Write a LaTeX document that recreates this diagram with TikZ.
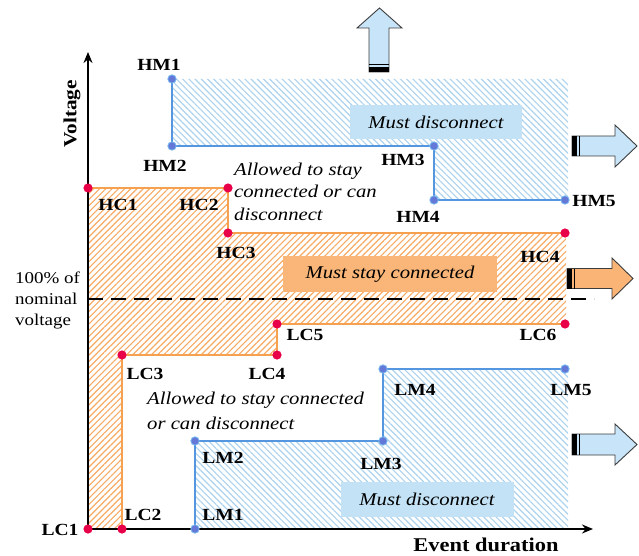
\documentclass[tikz,border=0pt]{standalone}
\usepackage{fontspec}
\setmainfont{Liberation Serif}[FakeStretch=1.15]
\usetikzlibrary{patterns.meta,arrows.meta}
\definecolor{hatchor}{RGB}{247,170,100}
\definecolor{lineor}{RGB}{247,160,80}
\definecolor{hatchbl}{RGB}{172,210,238}
\definecolor{linebl}{RGB}{85,150,225}
\definecolor{dotred}{RGB}{232,0,72}
\definecolor{dotbl}{RGB}{100,120,215}
\definecolor{ringbl}{RGB}{120,185,240}
\definecolor{boxbl}{RGB}{195,226,245}
\definecolor{boxor}{RGB}{250,182,120}
\definecolor{arrbl}{RGB}{200,228,248}
\definecolor{arror}{RGB}{250,180,118}
\definecolor{arrline}{RGB}{60,60,60}
\begin{document}
\begin{tikzpicture}[x=1pt,y=1pt,
  lbl/.style={font=\fontsize{17}{20}\selectfont\bfseries, inner sep=0pt},
  ital/.style={font=\fontsize{18}{22.5}\selectfont\itshape, inner sep=0pt, align=left},
  hatchO/.style={pattern={Lines[angle=45,distance=4.4pt,line width=1.15pt]}, pattern color=hatchor},
  hatchB/.style={pattern={Lines[angle=-45,distance=4.4pt,line width=1.15pt]}, pattern color=hatchbl},
  lineO/.style={draw=lineor, line width=1.5pt},
  lineB/.style={draw=linebl, line width=1.5pt},
  redpt/.style={fill=dotred},
  bluept/.style={fill=dotbl, draw=ringbl, line width=0.8pt},
  tagbox/.style={font=\fontsize{18}{22}\selectfont\itshape, inner sep=0pt},
  blockarrow/.style={draw=arrline, line width=0.9pt, line join=miter},
  axis/.style={line width=2.6pt, -{Stealth[length=11pt,width=9pt]}}
]
\useasboundingbox (0,0) rectangle (639,-556);

% ---- key points
\coordinate (HM1) at (172,-79);
\coordinate (HM2) at (172,-146);
\coordinate (HM3) at (434,-146);
\coordinate (HM4) at (434,-200);
\coordinate (HM5) at (565,-200);
\coordinate (HC1) at (88,-188);
\coordinate (HC2) at (228,-188);
\coordinate (HC3) at (228,-233);
\coordinate (HC4) at (565,-233);
\coordinate (LC1) at (88,-529);
\coordinate (LC2) at (122,-529);
\coordinate (LC3) at (122,-355);
\coordinate (LC4) at (277,-355);
\coordinate (LC5) at (277,-324);
\coordinate (LC6) at (565,-324);
\coordinate (LM1) at (195,-529);
\coordinate (LM2) at (195,-441);
\coordinate (LM3) at (383,-441);
\coordinate (LM4) at (383,-369);
\coordinate (LM5) at (565,-369);

% ---- hatched regions
\fill[hatchB] (HM1) -- (568,-79) -- (568,-200) -- (HM4) -- (HM3) -- (HM2) -- cycle;
\fill[hatchB] (LM1) -- (LM2) -- (LM3) -- (LM4) -- (568,-369) -- (568,-529) -- cycle;
\fill[hatchO] (HC1) -- (HC2) -- (HC3) -- (566,-233) -- (566,-324) -- (LC5) -- (LC4) -- (LC3) -- (LC2) -- (LC1) -- cycle;

% ---- boxes with text
\node[tagbox, fill=boxbl, minimum width=172pt, minimum height=34pt] (md1) at (436,-122) {Must disconnect};
\node[tagbox, fill=boxbl, minimum width=173pt, minimum height=35pt] (md2) at (427,-499) {Must disconnect};
\node[tagbox, fill=boxor, minimum width=214pt, minimum height=36pt] (msc) at (390,-274) {Must stay connected};

% ---- nominal voltage dashed line
\coordinate (nomL) at (88,-299);
\coordinate (nomR) at (594,-299);
\draw[line width=1.5pt, dash pattern=on 15pt off 8pt] (nomL) -- (nomR);

% ---- boundary lines
\draw[lineO] (HC1) -- (HC2) -- (HC3) -- (HC4);
\draw[lineO] (LC2) -- (LC3) -- (LC4) -- (LC5) -- (LC6);
\draw[lineB] (HM1) -- (HM2) -- (HM3) -- (HM4) -- (HM5);
\draw[lineB] (LM1) -- (LM2) -- (LM3) -- (LM4) -- (LM5);

% ---- axes
\coordinate (org) at (88,-531);
\coordinate (ytip) at (88,-52);
\coordinate (xorg) at (86,-529);
\coordinate (xtip) at (593,-529);
\draw[axis] (org) -- (ytip);
\draw[axis] (xorg) -- (xtip);

% ---- dots
\foreach \p in {HC1,HC2,HC3,HC4,LC1,LC2,LC3,LC4,LC5,LC6}{\fill[redpt] (\p) circle (4.6pt);}
\foreach \p in {HM1,HM2,HM3,HM4,HM5,LM1,LM2,LM3,LM4,LM5}{\filldraw[bluept] (\p) circle (4.2pt);}

% ---- point labels
\node[lbl] (tHM1) at (159,-65) {HM1};
\node[lbl] (tHM2) at (165,-166) {HM2};
\node[lbl] (tHM3) at (403,-160) {HM3};
\node[lbl] (tHM4) at (418,-217) {HM4};
\node[lbl] (tHM5) at (594,-201) {HM5};
\node[lbl] (tHC1) at (118,-205) {HC1};
\node[lbl] (tHC2) at (199,-205) {HC2};
\node[lbl] (tHC3) at (236,-253) {HC3};
\node[lbl] (tHC4) at (540,-257) {HC4};
\node[lbl] (tLC1) at (60,-530) {LC1};
\node[lbl] (tLC2) at (143,-515) {LC2};
\node[lbl] (tLC3) at (145,-374) {LC3};
\node[lbl] (tLC4) at (267,-374) {LC4};
\node[lbl] (tLC5) at (305,-335) {LC5};
\node[lbl] (tLC6) at (538,-335) {LC6};
\node[lbl] (tLM1) at (223,-515) {LM1};
\node[lbl] (tLM2) at (223,-458) {LM2};
\node[lbl] (tLM3) at (381,-464) {LM3};
\node[lbl] (tLM4) at (415,-390) {LM4};
\node[lbl] (tLM5) at (571,-390) {LM5};

% ---- free texts (base anchor = baseline of last line)
\node[ital, anchor=base west] (allow1) at (234,-220) {Allowed to stay\\connected or can\\disconnect};
\node[ital, font=\fontsize{18}{24.5}\selectfont\itshape, anchor=base west] (allow2) at (147,-429) {Allowed to stay connected\\or can disconnect};
\node[inner sep=0pt, align=left, anchor=base west, font=\fontsize{16.5}{21}\selectfont] (nomtxt) at (15,-325) {100\% of\\nominal\\voltage};
\node[inner sep=0pt, rotate=90, font=\fontsize{18.5}{22}\selectfont\bfseries] (vlab) at (72,-114) {Voltage};
\node[inner sep=0pt, font=\fontsize{19.5}{22}\selectfont\bfseries] (elab) at (486,-545) {Event duration};

% ---- block arrows
% up arrow
\filldraw[blockarrow, fill=arrbl] (369,-72) -- (369,-28) -- (357,-28) -- (379.5,-8) -- (402,-28) -- (389,-28) -- (389,-72) -- cycle;
\fill[black] (369,-72) rectangle (389,-67.5);
\draw[black, line width=1pt] (369,-65) -- (389,-65);
% right arrow (upper blue)
\filldraw[blockarrow, fill=arrbl] (572,-136) -- (615,-136) -- (615,-125) -- (637,-146) -- (615,-167) -- (615,-156) -- (572,-156) -- cycle;
\fill[black] (572,-136) rectangle (577,-156);
\draw[black, line width=1pt] (579.5,-136) -- (579.5,-156);
% right arrow (orange)
\filldraw[blockarrow, fill=arror] (567,-268.5) -- (612,-268.5) -- (612,-258) -- (633,-278.5) -- (612,-299) -- (612,-288.5) -- (567,-288.5) -- cycle;
\fill[black] (567,-268.5) rectangle (572,-288.5);
\draw[black, line width=1pt] (574.5,-268.5) -- (574.5,-288.5);
% right arrow (lower blue)
\filldraw[blockarrow, fill=arrbl] (572,-434) -- (615,-434) -- (615,-424) -- (637,-444.5) -- (615,-465) -- (615,-455) -- (572,-455) -- cycle;
\fill[black] (572,-434) rectangle (577,-455);
\draw[black, line width=1pt] (579.5,-434) -- (579.5,-455);
\end{tikzpicture}
\end{document}
